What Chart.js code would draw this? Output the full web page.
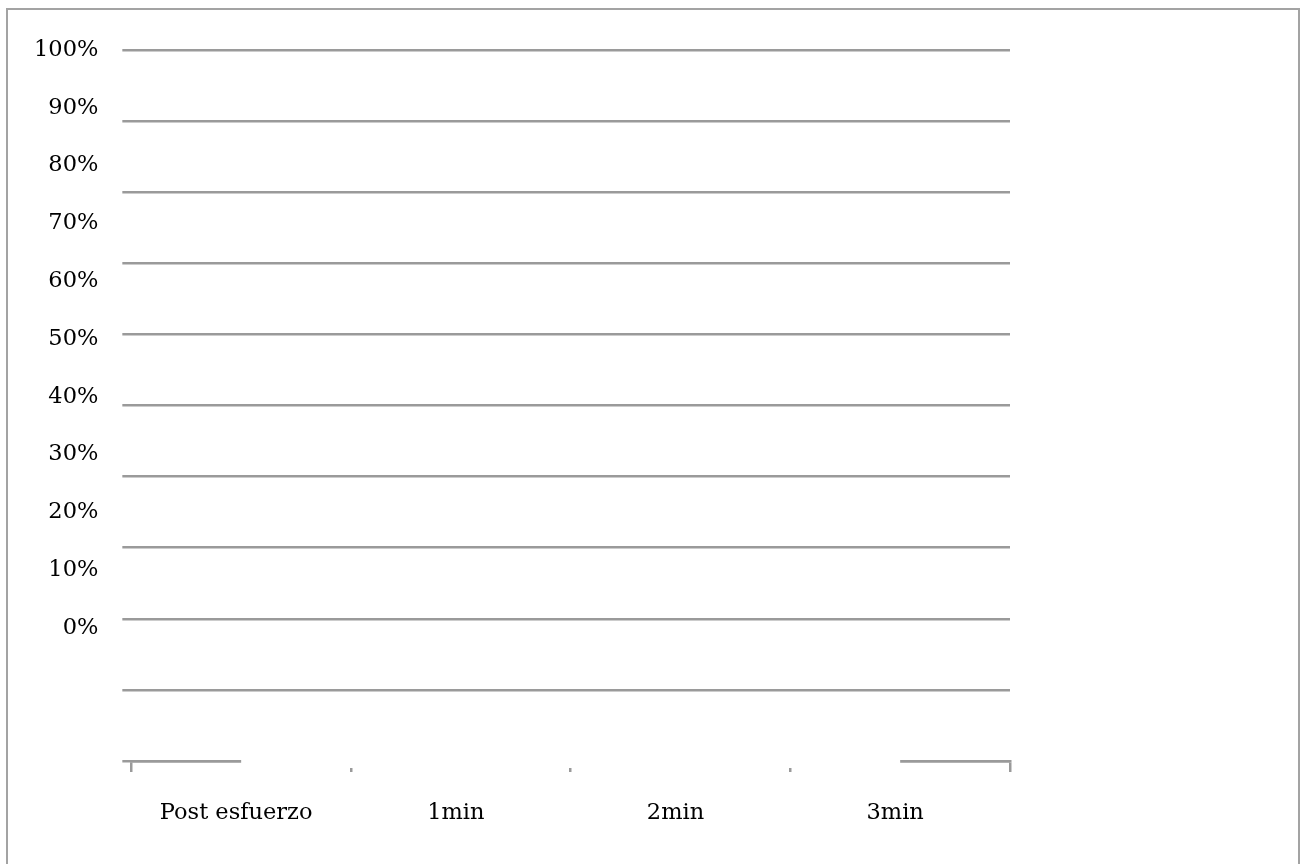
<!DOCTYPE html>
<html>
<head>
<meta charset="utf-8">
<title>Post esfuerzo</title>
<script src="https://cdn.jsdelivr.net/npm/chart.js@4/dist/chart.umd.min.js"></script>
<style>
    html, body { margin: 0; padding: 0; background: #fff; overflow: hidden; }
    #wrap { position: relative; width: 1300px; height: 864px; }
    #frame {
        position: absolute; left: 6px; top: 8px; width: 1290px; height: 900px;
        border: 2px solid #a3a3a3; border-bottom: none;
    }
    #chart { position: absolute; left: 0; top: 0; }
</style>
</head>
<body>
<div id="wrap">
    <div id="frame"></div>
    <canvas id="chart" width="1300" height="864"></canvas>
</div>
<script>
// categorias del eje x
const categories = ['Post esfuerzo', '1min', '2min', '3min'];
// serie blanca que queda sobre el eje (tapa la linea entre la primera y la ultima categoria)
const baselineValues = [0, 0, 0, 0];
// etiquetas del eje y (porcentaje)
const yTickValues = [0, 10, 20, 30, 40, 50, 60, 70, 80, 90, 100];
// rango de las lineas de division
const gridMin = 0;
const gridMax = 100;
const gridStep = 10;
// rango del eje de etiquetas (las etiquetas quedan desplazadas respecto a las lineas)
const labelMin = -23;
const labelMax = 100;

const axisGray = '#9a9a9a';
const labelFont = { family: 'DejaVu Serif', size: 22.5 };

document.addEventListener('DOMContentLoaded', () => {
    const data = {
        labels: categories,
        datasets: [{
            label: 'Serie 1',
            data: baselineValues,
            yAxisID: 'yGrid',
            borderColor: '#ffffff',
            backgroundColor: '#ffffff',
            borderWidth: 14,
            pointRadius: 0,
            tension: 0,
            clip: false,
        }]
    };

    const config = {
        type: 'line',
        data: data,
        options: {
            responsive: false,
            animation: false,
            devicePixelRatio: 1,
            layout: {
                padding: { left: 10, right: 290, top: 50, bottom: 9 }
            },
            plugins: {
                legend: { display: false },
                tooltip: { enabled: false }
            },
            scales: {
                x: {
                    type: 'category',
                    offset: true,
                    grid: {
                        offset: true,
                        drawOnChartArea: false,
                        drawTicks: true,
                        tickLength: 11,
                        color: axisGray,
                        lineWidth: 2.5
                    },
                    border: { display: true, color: axisGray, width: 2.5 },
                    ticks: {
                        color: '#000',
                        font: labelFont,
                        padding: 28,
                        labelOffset: -5,
                        maxRotation: 0,
                        autoSkip: false
                    }
                },
                yGrid: {
                    type: 'linear',
                    position: 'left',
                    weight: 1,
                    min: gridMin,
                    max: gridMax,
                    ticks: { display: false, stepSize: gridStep },
                    grid: {
                        color: axisGray,
                        lineWidth: 2.5,
                        drawTicks: true,
                        tickLength: 9
                    },
                    border: { display: false }
                },
                yLabels: {
                    type: 'linear',
                    position: 'left',
                    weight: 2,
                    min: labelMin,
                    max: labelMax,
                    afterBuildTicks: (axis) => {
                        axis.ticks = yTickValues.map(v => ({ value: v }));
                    },
                    grid: { display: false, drawTicks: false },
                    border: { display: false },
                    ticks: {
                        color: '#000',
                        font: labelFont,
                        padding: 24,
                        callback: (value) => value + '%'
                    }
                }
            }
        }
    };

    const chart = new Chart(document.getElementById('chart'), config);
});
</script>
</body>
</html>
